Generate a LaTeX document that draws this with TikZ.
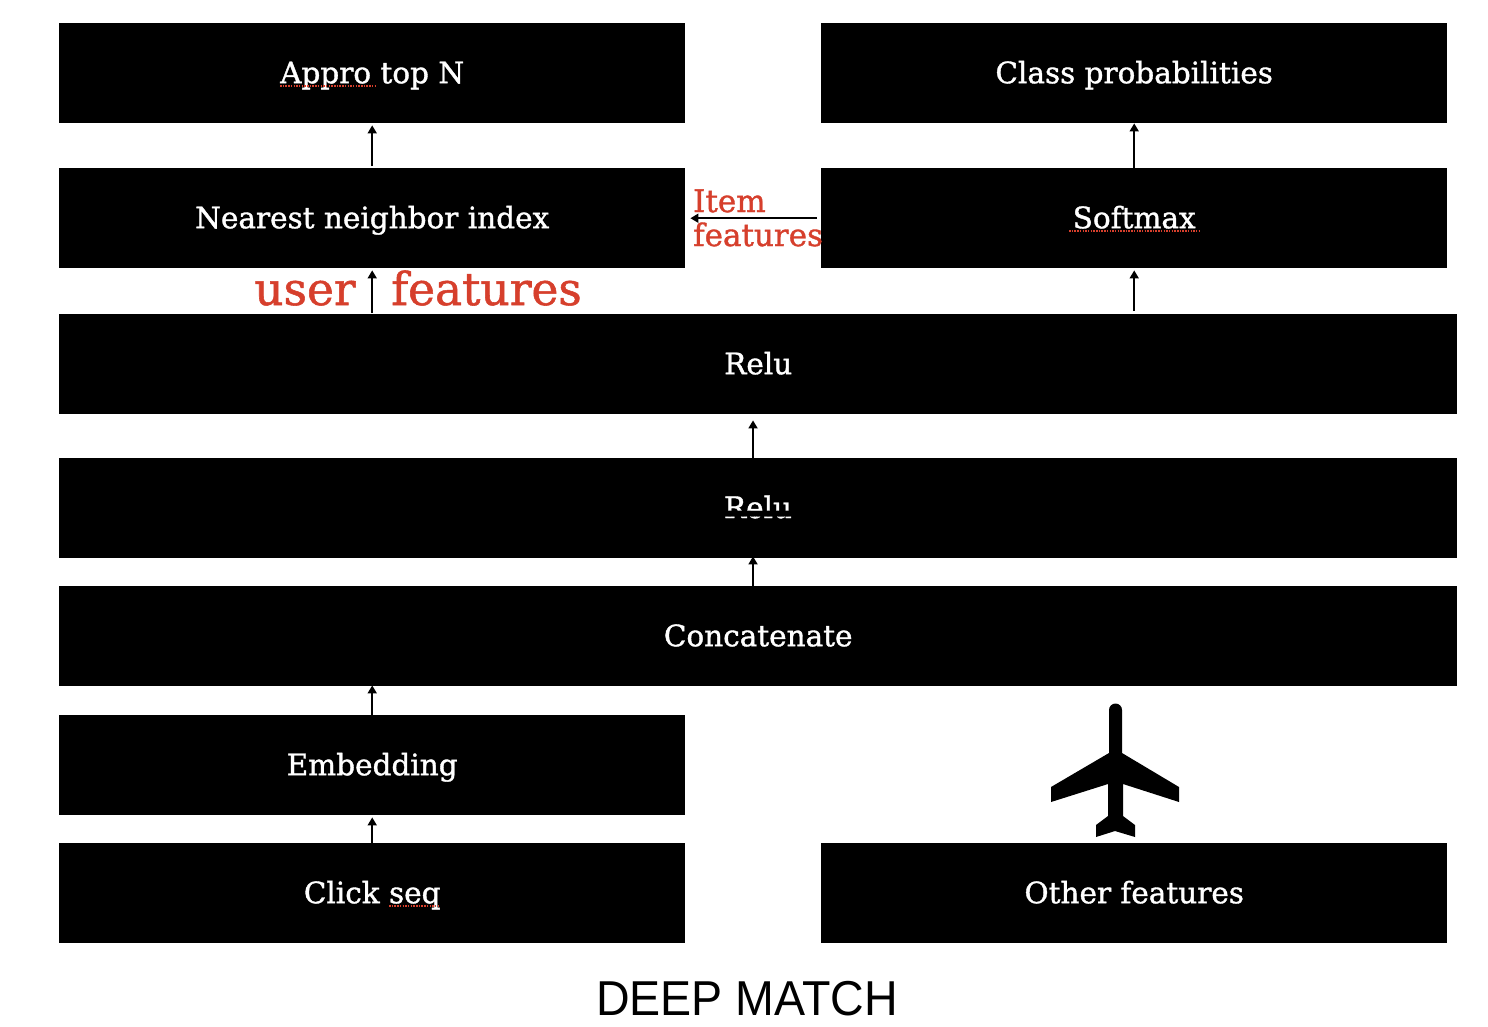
\documentclass[tikz,border=0pt]{standalone}
\usepackage{fontspec}
\setmainfont{DejaVu Serif}
\newfontfamily\boxfont[FakeBold=1.2]{DejaVu Serif}
\newfontfamily\titlefont{Liberation Sans}
\usetikzlibrary{arrows.meta}
\definecolor{redtxt}{HTML}{D63F2C}
\tikzset{x=1pt,y=-1pt,
  blk/.style={fill=black,text=white,inner sep=0pt,anchor=north west,text height=20pt,text depth=0pt,font=\boxfont\fontsize{29.5}{32}\selectfont},
  wide/.style={blk,minimum width=1398pt,minimum height=100pt},
  half/.style={blk,minimum width=626pt,minimum height=100pt},
  arr/.style={-{Triangle[length=8pt,width=9pt]},line width=1.7pt,black},
  redlab/.style={text=redtxt,inner sep=0pt,anchor=base},
  spell/.style={redtxt,line width=1.2pt,dash pattern=on 1.5pt off 1.2pt}}
\begin{document}
\begin{tikzpicture}
\useasboundingbox (0,0) rectangle (1488,1026);
\node[half] (appro) at (59,23) {Appro top N};
\node[half] (class) at (821,23) {Class probabilities};
\node[half] (nearest) at (59,168) {Nearest neighbor index};
\node[half] (softmax) at (821,168) {Softmax};
\node[wide] (relua) at (59,314) {Relu};
\node[wide] (relub) at (59,458) {};
\node[wide] (concat) at (59,586) {Concatenate};
\node[half] (embed) at (59,715) {Embedding};
\node[half] (click) at (59,843) {Click seq};
\node[half] (other) at (821,843) {Other features};
% partly hidden label
\begin{scope}
\clip (680,480) rectangle (840,510.5) (680,516.5) rectangle (840,519);
\node[text=white,inner sep=0pt,text height=20pt,text depth=0pt,font=\boxfont\fontsize{29.5}{32}\selectfont] (relubtext) at (758,508) {Relu};
\end{scope}
% spell-check underlines
\coordinate (sp1a) at (280,86); \coordinate (sp1b) at (375,86);
\coordinate (sp2a) at (1069,231); \coordinate (sp2b) at (1199,231);
\coordinate (sp3a) at (389,906); \coordinate (sp3b) at (439,906);
\draw[spell] (sp1a) -- (sp1b);
\draw[spell] (sp2a) -- (sp2b);
\draw[spell] (sp3a) -- (sp3b);
% connectors
\draw[arr,shorten <=2pt,shorten >=2pt] (nearest.north) -- (appro.south);
\draw[arr] (softmax.north) -- (class.south);
\draw[arr,shorten <=1pt,shorten >=2pt] (relua.north -| nearest.south) -- (nearest.south);
\draw[arr,shorten <=3pt,shorten >=2pt] (relua.north -| softmax.south) -- (softmax.south);
\draw[arr,shorten <=4pt,shorten >=5pt] (softmax.west) -- (nearest.east);
\coordinate (midx) at (753,0);
\draw[arr,shorten >=6pt] (relub.north -| midx) -- (relua.south -| midx);
\draw[arr,shorten >=-2pt] (concat.north -| midx) -- (relub.south -| midx);
\draw[arr,shorten >=-1pt] (embed.north) -- (embed.north |- concat.south);
\draw[arr,shorten >=2pt] (click.north) -- (embed.south);
% red labels
\node[redlab,font=\boxfont\fontsize{45.5}{50}\selectfont] (user) at (305,305) {user};
\node[redlab,font=\boxfont\fontsize{45.5}{50}\selectfont] (feat) at (486.5,305) {features};
\node[redlab,anchor=base west,font=\boxfont\fontsize{31}{35}\selectfont] (item) at (693,212) {Item};
\node[redlab,anchor=base west,font=\boxfont\fontsize{31}{35}\selectfont] (featb) at (693,246) {features};
% airplane
\fill[black] (1109,710) arc[start angle=180,end angle=360,radius=6.5] -- (1122,753) -- (1179,787) -- (1179,802) -- (1123,784) -- (1123,816) -- (1135,825) -- (1135,837) -- (1115,831) -- (1096,837) -- (1096,825) -- (1108,816) -- (1108,784) -- (1051,802) -- (1051,787) -- (1109,753) -- cycle;
% title
\node[inner sep=0pt,anchor=base,font=\titlefont\fontsize{49}{54}\selectfont] (title) at (747,1015) {\scalebox{0.95}[1]{DEEP MATCH}};
\end{tikzpicture}
\end{document}
